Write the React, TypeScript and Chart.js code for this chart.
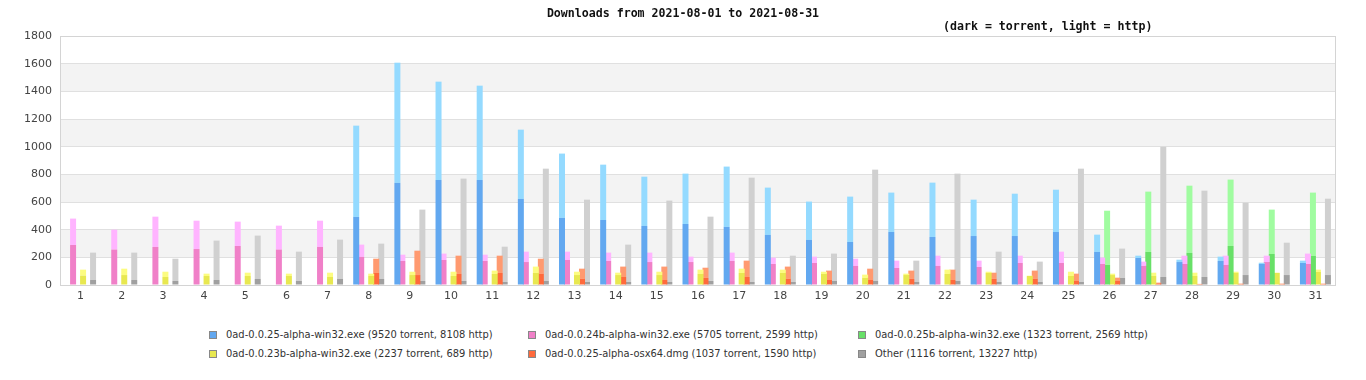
import React, { useEffect, useRef } from "react";
import { Chart, registerables } from "chart.js";
Chart.register(...registerables);

const dayLabels = ["1","2","3","4","5","6","7","8","9","10","11","12","13","14","15","16","17","18","19","20","21","22","23","24","25","26","27","28","29","30","31"];

const legendLabels = [
  "0ad-0.0.25-alpha-win32.exe (9520 torrent, 8108 http)",
  "0ad-0.0.24b-alpha-win32.exe (5705 torrent, 2599 http)",
  "0ad-0.0.25b-alpha-win32.exe (1323 torrent, 2569 http)",
  "0ad-0.0.23b-alpha-win32.exe (2237 torrent, 689 http)",
  "0ad-0.0.25-alpha-osx64.dmg (1037 torrent, 1590 http)",
  "Other (1116 torrent, 13227 http)",
];

const N = null;
// 0ad-0.0.25-alpha-win32.exe
const blueTorrent = [N,N,N,N,N,N,N,492,738,759,759,622,485,470,427,441,420,362,326,311,383,347,354,354,383,239,195,166,174,152,159];
const blueHttp = [N,N,N,N,N,N,N,660,869,711,682,501,465,400,356,364,436,342,277,328,285,393,263,306,306,125,17,17,31,9,17];
// 0ad-0.0.24b-alpha-win32.exe
const pinkTorrent = [289,256,275,260,282,256,275,203,174,181,174,166,181,174,166,166,174,152,159,138,123,138,130,159,159,152,138,152,145,166,152];
const pinkHttp = [191,144,219,205,176,173,190,89,45,46,45,75,60,60,68,39,60,46,46,52,53,74,46,53,82,46,31,60,67,46,75];
// 0ad-0.0.25b-alpha-win32.exe
const greenTorrent = [N,N,N,N,N,N,N,N,N,N,N,N,N,N,N,N,N,N,N,N,N,N,N,N,N,145,239,232,282,224,210];
const greenHttp = [N,N,N,N,N,N,N,N,N,N,N,N,N,N,N,N,N,N,N,N,N,N,N,N,N,392,436,486,480,321,458];
// 0ad-0.0.23b-alpha-win32.exe
const yellowTorrent = [68,72,58,65,65,65,58,65,72,65,80,87,72,72,72,80,87,87,80,51,72,80,87,65,65,72,65,65,87,87,94];
const yellowHttp = [43,46,38,17,24,17,31,17,24,31,24,46,24,17,24,31,31,24,16,24,10,31,9,2,31,10,24,24,9,2,17];
// 0ad-0.0.25-alpha-osx64.dmg
const orangeTorrent = [N,N,N,N,N,N,N,87,72,80,87,80,44,58,36,51,58,44,36,36,44,36,44,44,29,29,12,6,6,6,6];
const orangeHttp = [N,N,N,N,N,N,N,103,176,132,125,110,74,75,97,74,118,89,68,82,60,75,45,60,53,24,5,2,4,4,4];
// Other
const grayTorrent = [36,36,29,36,44,29,44,44,29,29,22,29,22,22,22,29,22,22,29,29,22,29,22,22,22,51,58,58,72,72,72];
const grayHttp = [198,198,161,285,313,212,284,255,516,740,255,812,595,270,588,465,754,190,198,805,154,776,219,147,819,212,942,624,523,234,552];

const yTickMax = 1800;
const yTickStep = 200;

const torrentSeries = [blueTorrent, pinkTorrent, greenTorrent, yellowTorrent, orangeTorrent, grayTorrent];
const httpSeries = [blueHttp, pinkHttp, greenHttp, yellowHttp, orangeHttp, grayHttp];
const darkColors = ["#62a8f0", "#f080c8", "#68e068", "#e8e850", "#ff6a3c", "#a0a0a0"];
const lightColors = ["#94daff", "#ffb4ff", "#a0fca0", "#fcfc80", "#ff9a70", "#d0d0d0"];

const FONT = '"DejaVu Sans", sans-serif';

const framePlugin = {
  id: "frameBands",
  beforeDraw(chart: any) {
    const { ctx, chartArea: a, scales } = chart;
    const y = scales.y;
    const vals = y.ticks.map((t: any) => t.value);
    ctx.save();
    ctx.fillStyle = "#f3f3f3";
    for (let i = 0; i < vals.length - 1; i++) {
      if (i % 2 === 1) {
        const top = y.getPixelForValue(vals[i + 1]);
        const bot = y.getPixelForValue(vals[i]);
        ctx.fillRect(a.left, top, a.right - a.left, bot - top);
      }
    }
    ctx.restore();
  },
  beforeDatasetsDraw(chart: any) {
    const { ctx, chartArea: a } = chart;
    ctx.save();
    ctx.strokeStyle = "#d4d4d4";
    ctx.lineWidth = 1;
    ctx.strokeRect(Math.round(a.left) + 0.5, Math.round(a.top) + 0.5, Math.round(a.right - a.left) - 1, Math.round(a.bottom - a.top));
    ctx.restore();
  },
};

function ChartCanvas() {
  const ref = useRef<HTMLCanvasElement | null>(null);
  useEffect(() => {
    if (!ref.current) return;
    const datasets: any[] = [];
    for (let i = 0; i < 6; i++) {
      datasets.push({
        label: legendLabels[i] + " torrent",
        data: torrentSeries[i],
        backgroundColor: darkColors[i],
        stack: "s" + i,
        borderWidth: 0,
      });
      datasets.push({
        label: legendLabels[i] + " http",
        data: httpSeries[i],
        backgroundColor: lightColors[i],
        stack: "s" + i,
        borderWidth: 0,
      });
    }
    const chart = new Chart(ref.current, {
      type: "bar",
      data: { labels: dayLabels, datasets },
      plugins: [framePlugin],
      options: {
        animation: false,
        responsive: false,
        maintainAspectRatio: false,
        devicePixelRatio: 1,
        layout: { padding: { top: 36, right: 30, left: 0, bottom: 0 } },
        datasets: {
          bar: {
            categoryPercentage: 30 / 41.1613,
            barPercentage: 1.2,
          },
        },
        plugins: {
          legend: { display: false },
          title: { display: false },
          tooltip: { enabled: false },
        },
        scales: {
          x: {
            stacked: true,
            grid: { display: false, drawTicks: false },
            border: { display: false },
            ticks: { font: { family: FONT, size: 11 }, color: "#444", padding: 5, maxRotation: 0, autoSkip: false },
            afterFit(scale: any) { scale.height = 25; },
          },
          y: {
            stacked: true,
            min: 0,
            max: yTickMax,
            grid: { color: "#e0e0e0", drawTicks: false },
            border: { display: false },
            ticks: {
              stepSize: yTickStep,
              font: { family: FONT, size: 11 },
              color: "#444",
              padding: 8,
              callback: (v: any) => String(v),
            },
            afterFit(scale: any) { scale.width = 60; },
          },
        },
      },
    });
    return () => chart.destroy();
  }, []);
  return <canvas ref={ref} width={1366} height={310} style={{ position: "absolute", left: 0, top: 0, width: 1366, height: 310 }} />;
}

const colLeft = [209, 528, 858];
const rowCenter = [335, 354];

export default function App() {
  const mono = '"DejaVu Sans Mono", monospace';
  return (
    <div style={{ position: "fixed", left: 0, top: 0, width: 1366, height: 380, background: "#fff", overflow: "hidden" }}>
      <ChartCanvas />
      <div style={{ position: "absolute", left: 0, top: 6, width: 1366, textAlign: "center", font: `bold 11.6px ${mono}`, lineHeight: "14px", color: "#111", whiteSpace: "pre" }}>
        Downloads from 2021-08-01 to 2021-08-31
      </div>
      <div style={{ position: "absolute", left: 943, top: 19, font: `bold 11.6px ${mono}`, lineHeight: "14px", color: "#111", whiteSpace: "pre" }}>
        (dark = torrent, light = http)
      </div>
      {legendLabels.map((lab, i) => (
        <div key={i} style={{ position: "absolute", left: colLeft[i % 3], top: rowCenter[Math.floor(i / 3)] - 7, height: 14, display: "flex", alignItems: "center", whiteSpace: "pre" }}>
          <span style={{ display: "inline-block", width: 6, height: 6, border: "1px solid #888", background: darkColors[i], marginRight: 9 }} />
          <span style={{ fontFamily: '"DejaVu Sans Condensed", "DejaVu Sans", sans-serif', fontStretch: "condensed", fontSize: 11, lineHeight: "14px", color: "#333" }}>{lab}</span>
        </div>
      ))}
    </div>
  );
}
